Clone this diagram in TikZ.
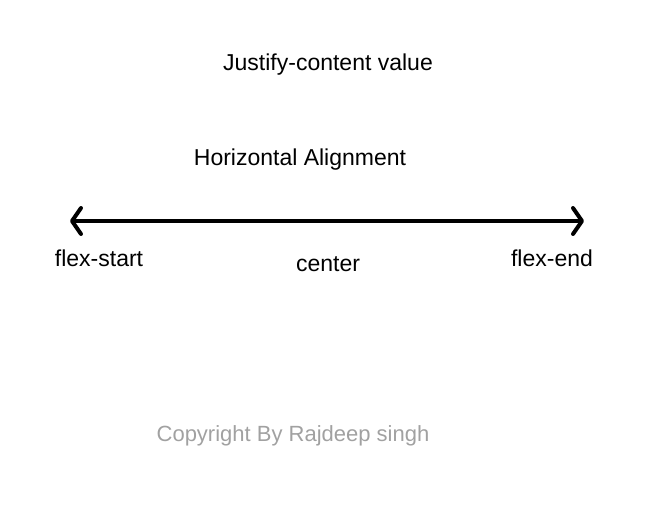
\documentclass[tikz,border=0pt]{standalone}
\usepackage{fontspec}
\setmainfont{Liberation Sans}
\usepackage{tikz}
\usetikzlibrary{arrows.meta}

\begin{document}
\begin{tikzpicture}[x=1pt, y=-1pt, color=black,
      every node/.append style={font=\fontsize{23}{27}\selectfont, inner sep=0pt},
      axis/.style={line width=4pt, {Straight Barb[length=9pt,width=26pt,line cap=round,line join=round]}-{Straight Barb[length=9pt,width=26pt,line cap=round,line join=round]}}]
    \tikzstyle{note} = [color=black!37, font=\fontsize{22}{26}\selectfont]
    \useasboundingbox (0,0) rectangle (650,512);
    \node (title) at (328,65) {Justify-content value};
    \node (horiz) at (300,160) {Horizontal Alignment};
    \coordinate (left) at (70,221);
    \coordinate (right) at (584,221);
    \draw[axis] (left) -- (right);
    \node (start) at (99,258) {flex-start};
    \node (center) at (328,264) {center};
    \node (end) at (552,258) {flex-end};
    \node [note] (copy) at (293,436) {Copyright By Rajdeep singh};
\end{tikzpicture}
\end{document}
